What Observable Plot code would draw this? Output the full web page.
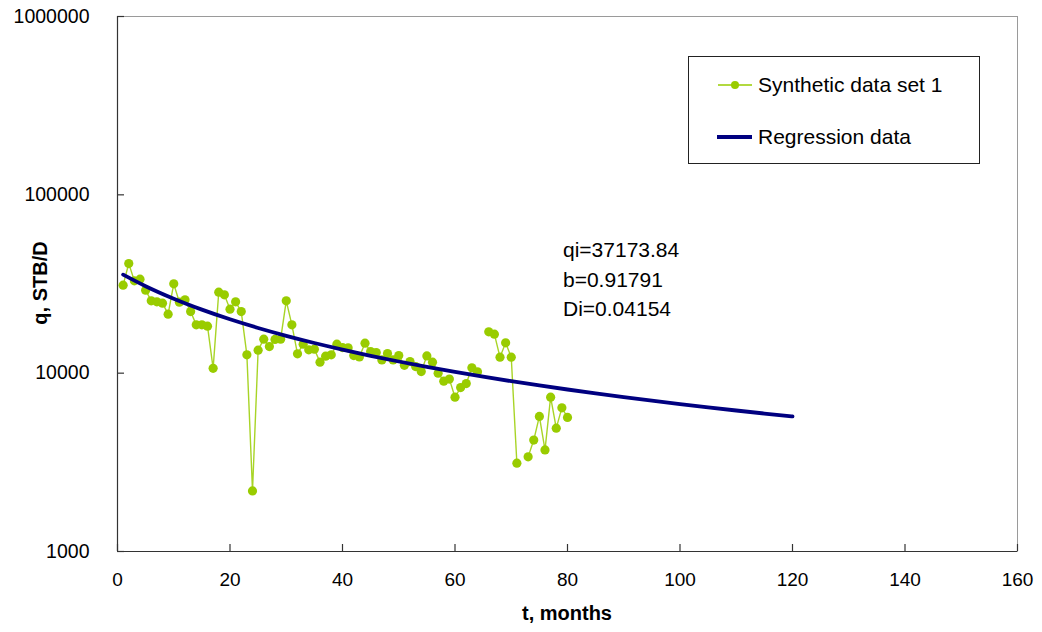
<!DOCTYPE html>
<html>
<head>
<meta charset="utf-8">
<script src="https://cdn.jsdelivr.net/npm/d3@7"></script>
<script src="https://cdn.jsdelivr.net/npm/@observablehq/plot@0.6"></script>
<style>
  html, body { margin: 0; padding: 0; background: #fff; }
  #chart { width: 1042px; height: 632px; }
</style>
</head>
<body>
<div id="chart"></div>
<script>
// ---- data ----
const months = d3.range(1, 81);
const rates = [
  31150, 41180, 32930, 33660, 29210, 25440, 25110, 24690, 21420, 31680,
  25010, 25770, 22150, 18660, 18660, 18350, 10640, 28470, 27490, 22850,
  25110, 22150, 12670, 2187, 13460, 15510, 14100, 15450, 15510, 25440,
  18660, 12830, 14540, 13510, 13630, 11530, 12460, 12670, 14540, 13920,
  13870, 12550, 12340, 14730, 13210, 13050, 11870, 12880, 11870, 12550,
  11060, 11620, 10890, 10210, 12500, 11530, 10000, 9020, 9260, 7335,
  8300, 8743, 10710, 10170, null, 17050, 16550, 12290, 14790, 12290,
  3128, null, 3394, 4214, 5723, 3714, 7335, 4915, 6390, 5650
];
const regMonths = [1, 5, 10, 15, 20, 25, 30, 35, 40, 45, 50, 55, 60, 65, 70, 75, 80, 85, 90, 95, 100, 105, 110, 115, 120];
const regRates = [35689, 30738, 26147, 22710, 20048, 17926, 16197, 14761, 13551, 12518, 11627, 10849, 10165, 9560, 9020, 8535, 8099, 7703, 7343, 7014, 6711, 6433, 6176, 5938, 5718];
const xTicks = [0, 20, 40, 60, 80, 100, 120, 140, 160];
const yTicks = [1000, 10000, 100000, 1000000];
const seriesNames = ["Synthetic data set 1", "Regression data"];
const annotation = ["qi=37173.84", "b=0.91791", "Di=0.04154"];
const xTitle = "t, months";
const yTitle = "q, STB/D";

const synth = months.map((t, i) => ({t, q: rates[i]}));
const reg = regMonths.map((t, i) => ({t, q: regRates[i]}));

const green = "#99CC00";
const navy = "#000080";
const font = "'Liberation Sans', Arial, sans-serif";

const chart = Plot.plot({
  width: 1042,
  height: 632,
  marginLeft: 117,
  marginRight: 25,
  marginTop: 16,
  marginBottom: 81,
  style: {fontFamily: font, fontSize: "19px", background: "#fff", color: "#000", overflow: "visible"},
  x: {domain: [0, 160], ticks: xTicks, label: null},
  y: {type: "log", domain: [1000, 1000000], ticks: yTicks, label: null},
  marks: [
    Plot.frame({stroke: "#9a9a9a"}),
    Plot.ruleX([0], {stroke: "#333", strokeWidth: 1.2}),
    Plot.ruleY([1000], {stroke: "#333", strokeWidth: 1.2}),
    Plot.axisX({ticks: xTicks, tickSize: 0, tickPadding: 21, tickFormat: d => String(d), fontSize: 19}),
    Plot.axisY({ticks: yTicks, tickSize: 0, tickPadding: 28, tickFormat: d => String(d), fontSize: 19.5}),
    // inward tick marks (7px) drawn as zero-length rules extended by negative insets
    Plot.ruleX(xTicks, {x: d => d, y1: () => 1000, y2: () => 1000, insetTop: -7, stroke: "#333", strokeWidth: 1.2}),
    Plot.ruleY(yTicks, {y: d => d, x1: () => 0, x2: () => 0, insetRight: -7, stroke: "#333", strokeWidth: 1.2}),
    Plot.line(synth, {x: "t", y: "q", stroke: green, strokeWidth: 1.4, strokeOpacity: 0.85}),
    Plot.dot(synth, {x: "t", y: "q", r: 4.6, fill: green, stroke: "none"}),
    Plot.line(reg, {x: "t", y: "q", stroke: navy, strokeWidth: 3.8, curve: "monotone-x"})
  ]
});

document.getElementById("chart").appendChild(chart);

// overlays: titles, annotation, legend
const svg = d3.select(chart);
const g = svg.append("g").attr("font-family", font).attr("fill", "#000").attr("text-anchor", "start");

g.append("text").attr("x", 567).attr("y", 620).attr("text-anchor", "middle")
  .attr("font-size", 20).attr("font-weight", "bold").text(xTitle);
g.append("text").attr("transform", "translate(47,283) rotate(-90)").attr("text-anchor", "middle")
  .attr("font-size", 20).attr("font-weight", "bold").text(yTitle);

annotation.forEach((s, i) => {
  g.append("text").attr("x", 563).attr("y", 257 + i * 29.5).attr("font-size", 21).text(s);
});

const lg = g.append("g");
lg.append("rect").attr("x", 688.5).attr("y", 56.5).attr("width", 291).attr("height", 107)
  .attr("fill", "#fff").attr("stroke", "#222").attr("stroke-width", 1);
lg.append("line").attr("x1", 718).attr("x2", 752).attr("y1", 85).attr("y2", 85)
  .attr("stroke", green).attr("stroke-width", 1.4);
lg.append("circle").attr("cx", 735).attr("cy", 85).attr("r", 4).attr("fill", green);
lg.append("text").attr("x", 758).attr("y", 92).attr("font-size", 21).text(seriesNames[0]);
lg.append("line").attr("x1", 717).attr("x2", 752).attr("y1", 137).attr("y2", 137)
  .attr("stroke", navy).attr("stroke-width", 3.8);
lg.append("text").attr("x", 758).attr("y", 144).attr("font-size", 21).text(seriesNames[1]);
</script>
</body>
</html>
